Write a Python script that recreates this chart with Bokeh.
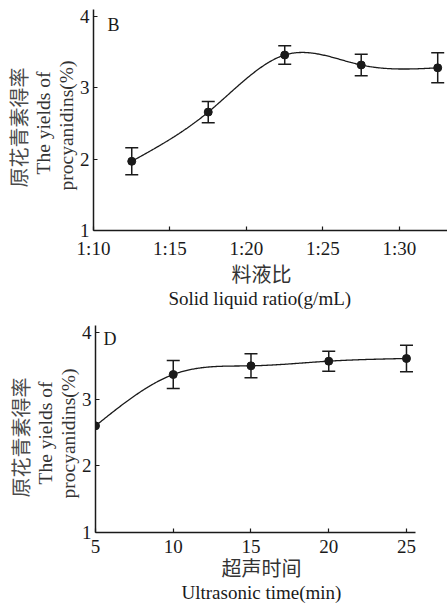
import numpy as np
from bokeh.plotting import figure
from bokeh.models import Range1d, FixedTicker, Whisker, TeeHead, ColumnDataSource, Label, Title
from bokeh.embed import file_html
from bokeh.resources import INLINE

# ---- Panel B: solid-liquid ratio ----
ratio_x = [12.5, 17.5, 22.5, 27.5, 32.5]
ratio_ticks = [10, 15, 20, 25, 30]
ratio_tick_labels = ["1:10", "1:15", "1:20", "1:25", "1:30"]
ratio_yield = [1.97, 2.66, 3.46, 3.32, 3.28]
ratio_err = [0.19, 0.15, 0.13, 0.15, 0.21]

# ---- Panel D: ultrasonic time ----
time_x = [5, 10, 15, 20, 25]
time_ticks = [5, 10, 15, 20, 25]
time_yield = [2.60, 3.37, 3.50, 3.57, 3.61]
time_err = [0.0, 0.21, 0.18, 0.15, 0.20]

y_ticks = [1, 2, 3, 4]

SERIF = "Liberation Serif"
CJK = "Liberation Serif, Noto Sans CJK SC"
INK = "#1a1a1a"


def natural_spline(xs, ys, n=300):
    x = np.asarray(xs, float)
    y = np.asarray(ys, float)
    k = len(x)
    h = np.diff(x)
    A = np.zeros((k, k))
    r = np.zeros(k)
    A[0, 0] = A[-1, -1] = 1.0
    for i in range(1, k - 1):
        A[i, i - 1] = h[i - 1]
        A[i, i] = 2 * (h[i - 1] + h[i])
        A[i, i + 1] = h[i]
        r[i] = 6 * ((y[i + 1] - y[i]) / h[i] - (y[i] - y[i - 1]) / h[i - 1])
    M = np.linalg.solve(A, r)
    xx = np.linspace(x[0], x[-1], n)
    idx = np.clip(np.searchsorted(x, xx) - 1, 0, k - 2)
    x0 = x[idx]
    x1 = x[idx + 1]
    hh = x1 - x0
    t0 = x1 - xx
    t1 = xx - x0
    yy = ((M[idx] * t0 ** 3 + M[idx + 1] * t1 ** 3) / (6 * hh)
          + (y[idx] / hh - M[idx] * hh / 6) * t0
          + (y[idx + 1] / hh - M[idx + 1] * hh / 6) * t1)
    return xx, yy


def style(p, xticks, xlabels=None):
    p.xgrid.visible = False
    p.ygrid.visible = False
    p.outline_line_color = None
    for ax in (p.xaxis[0], p.yaxis[0]):
        ax.axis_line_color = INK
        ax.axis_line_width = 1.5
        ax.major_tick_in = 4
        ax.major_tick_out = 0
        ax.major_tick_line_color = INK
        ax.major_tick_line_width = 1.2
        ax.minor_tick_line_color = None
        ax.major_label_text_font = SERIF
        ax.major_label_text_font_size = "19px"
        ax.major_label_text_color = INK
    p.yaxis[0].ticker = FixedTicker(ticks=y_ticks)
    p.yaxis[0].major_label_standoff = 4
    p.xaxis[0].ticker = FixedTicker(ticks=xticks)
    p.xaxis[0].major_label_standoff = 7
    if xlabels:
        p.xaxis[0].major_label_overrides = {t: l for t, l in zip(xticks, xlabels)}


def draw(p, xs, ys, errs):
    sx, sy = natural_spline(xs, ys)
    p.line(sx, sy, line_color=INK, line_width=1.3)
    wx = [x for x, e in zip(xs, errs) if e > 0]
    wy = [y for y, e in zip(ys, errs) if e > 0]
    we = [e for e in errs if e > 0]
    src = ColumnDataSource(dict(x=wx, lo=[y - e for y, e in zip(wy, we)],
                                hi=[y + e for y, e in zip(wy, we)]))
    w = Whisker(base="x", lower="lo", upper="hi", source=src,
                line_color=INK, line_width=1.5,
                upper_head=TeeHead(size=13, line_color=INK, line_width=1.5),
                lower_head=TeeHead(size=13, line_color=INK, line_width=1.5))
    p.add_layout(w)
    p.scatter(xs, ys, size=8, fill_color=INK, line_color=INK)


def ylabels(p, offs):
    # added from the axis outward
    texts = ["procyanidins(%)", "The yields of", "原花青素得率"]
    fonts = [SERIF, SERIF, CJK]
    sizes = ["19.5px", "19.5px", "20px"]
    colors = ["#333333", "#333333", "#4a4a4a"]
    for t, f, s, c, o in zip(texts, fonts, sizes, colors, offs):
        p.add_layout(Title(text=t, align="left", offset=o, text_font=f,
                           text_font_size=s, text_color=c, text_font_style="normal",
                           standoff=0), "left")


def xlabels(p, texts, offs):
    fonts = [CJK, SERIF]
    sizes = ["20px", "19px"]
    colors = ["#333333", INK]
    for t, f, s, c, o in zip(texts, fonts, sizes, colors, offs):
        p.add_layout(Title(text=t, align="left", offset=o, text_font=f,
                           text_font_size=s, text_color=c, text_font_style="normal",
                           standoff=0), "below")


# ---------- figure B ----------
pB = figure(width=447, height=312, x_range=Range1d(10, 33.14), y_range=Range1d(1, 4.098),
            output_backend="svg", toolbar_location=None,
            min_border_left=93, min_border_right=0, min_border_top=9, min_border_bottom=82)
style(pB, ratio_ticks, ratio_tick_labels)
draw(pB, ratio_x, ratio_yield, ratio_err)
ylabels(pB, [40, 56, 43])
xlabels(pB, ["料液比", "Solid liquid ratio(g/mL)"], [138, 75])
pB.add_layout(Label(x=10, y=4.098, x_offset=14, y_offset=-15, text="B", text_font=SERIF,
                    text_font_size="18px", text_color=INK, text_align="left",
                    text_baseline="middle"))

# ---------- figure D ----------
pD = figure(width=447, height=291, x_range=Range1d(5, 25.58), y_range=Range1d(1, 4.105),
            output_backend="svg", toolbar_location=None,
            min_border_left=95, min_border_right=32, min_border_top=13, min_border_bottom=71)
style(pD, time_ticks)
draw(pD, time_x, time_yield, time_err)
ylabels(pD, [34, 48, 35])
xlabels(pD, ["超声时间", "Ultrasonic time(min)"], [126, 86])
pD.add_layout(Label(x=5, y=4.105, x_offset=8, y_offset=-13, text="D", text_font=SERIF,
                    text_font_size="18px", text_color=INK, text_align="left",
                    text_baseline="middle"))

open("out.html", "w").write(file_html([pB, pD], INLINE))
